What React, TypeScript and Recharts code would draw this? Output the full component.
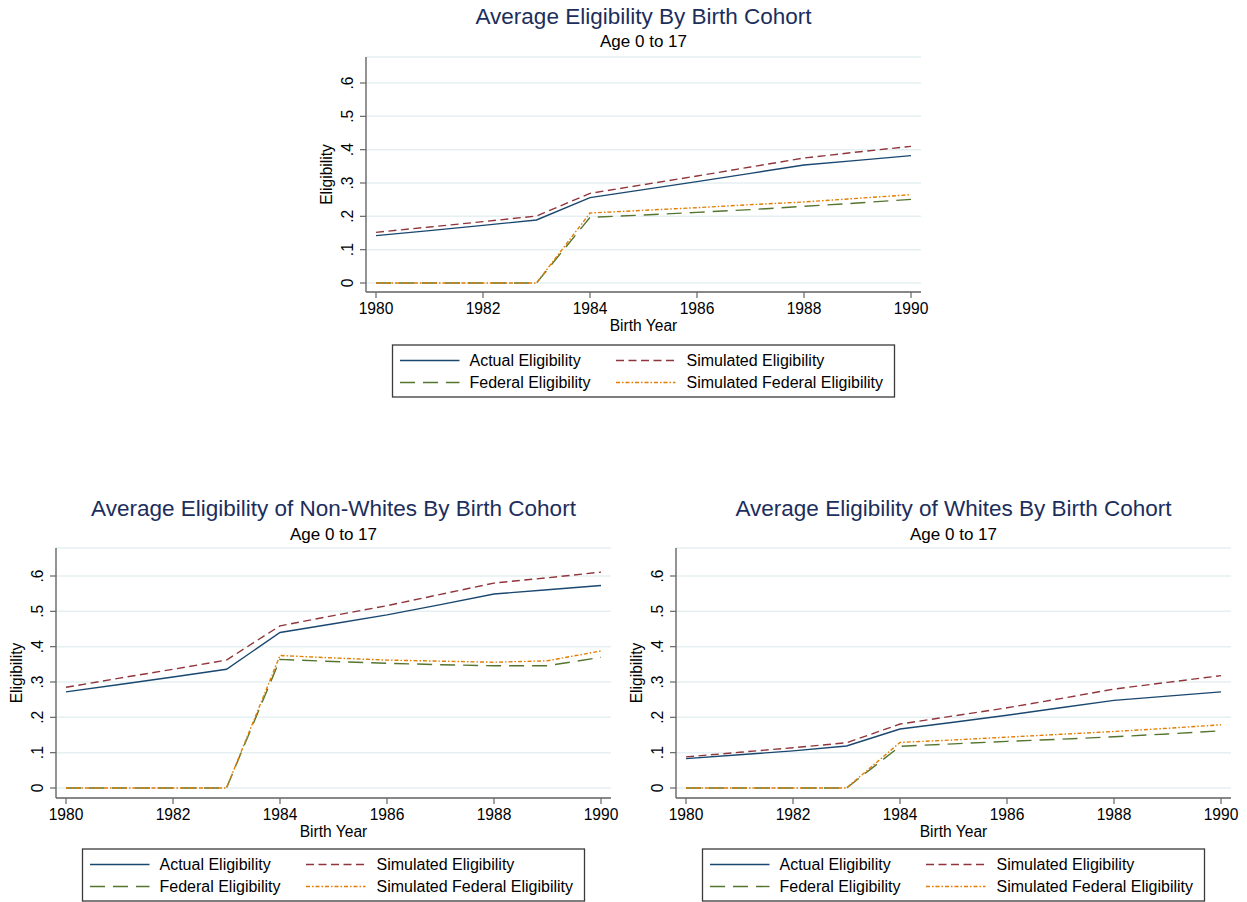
import React from "react";
import { LineChart, Line, XAxis, YAxis, CartesianGrid } from "recharts";

// ---------- Data ----------
const years = [1980, 1981, 1982, 1983, 1984, 1985, 1986, 1987, 1988, 1989, 1990];
const xTicks = [1980, 1982, 1984, 1986, 1988, 1990];
const yTicks = [0, 0.1, 0.2, 0.3, 0.4, 0.5, 0.6];

const allActual = [0.142, 0.157, 0.173, 0.189, 0.256, 0.28, 0.304, 0.329, 0.354, 0.368, 0.382];
const allSimulated = [0.152, 0.168, 0.184, 0.201, 0.269, 0.295, 0.321, 0.348, 0.375, 0.393, 0.41];
const allFederal = [0, 0, 0, 0, 0.197, 0.204, 0.212, 0.22, 0.23, 0.24, 0.251];
const allSimFederal = [0, 0, 0, 0, 0.21, 0.218, 0.226, 0.235, 0.243, 0.254, 0.265];

const nwActual = [0.272, 0.293, 0.314, 0.336, 0.44, 0.465, 0.49, 0.519, 0.549, 0.561, 0.573];
const nwSimulated = [0.285, 0.311, 0.336, 0.362, 0.459, 0.488, 0.516, 0.548, 0.58, 0.595, 0.611];
const nwFederal = [0, 0, 0, 0, 0.364, 0.358, 0.353, 0.349, 0.346, 0.346, 0.37];
const nwSimFederal = [0, 0, 0, 0, 0.375, 0.368, 0.362, 0.359, 0.356, 0.36, 0.388];

const wActual = [0.083, 0.094, 0.105, 0.119, 0.167, 0.186, 0.206, 0.227, 0.248, 0.26, 0.272];
const wSimulated = [0.088, 0.101, 0.114, 0.128, 0.181, 0.204, 0.227, 0.253, 0.28, 0.299, 0.318];
const wFederal = [0, 0, 0, 0, 0.118, 0.125, 0.132, 0.138, 0.145, 0.153, 0.162];
const wSimFederal = [0, 0, 0, 0, 0.129, 0.136, 0.144, 0.152, 0.16, 0.169, 0.179];

const seriesLabels = ["Actual Eligibility", "Simulated Eligibility", "Federal Eligibility", "Simulated Federal Eligibility"];
const titles = [
  "Average Eligibility By Birth Cohort",
  "Average Eligibility of Non-Whites By Birth Cohort",
  "Average Eligibility of Whites By Birth Cohort",
];
const subtitle = "Age 0 to 17";
const xTitle = "Birth Year";
const yTitle = "Eligibility";

// ---------- Styles ----------
const FONT = "'Liberation Sans', Arial, Helvetica, sans-serif";
const TITLE_COLOR = "#1c2e5c";
const AXIS_COLOR = "#666666";
const GRID_COLOR = "#e6eff1";
const SERIES = [
  { key: "actual", color: "#1a476f", dash: undefined as string | undefined },
  { key: "simulated", color: "#90353b", dash: "8 4.5" },
  { key: "federal", color: "#55752f", dash: "15 8" },
  { key: "simFederal", color: "#e37e00", dash: "4 2 1.5 2" },
];

function buildData(a: number[], s: number[], f: number[], sf: number[]) {
  return years.map((yr, i) => ({ year: yr, actual: a[i], simulated: s[i], federal: f[i], simFederal: sf[i] }));
}

const panels = [
  { title: titles[0], data: buildData(allActual, allSimulated, allFederal, allSimFederal), axisX: 366, top: 57, plotH: 235, titleY: 23.5, subY: 47, legendTop: 345 },
  { title: titles[1], data: buildData(nwActual, nwSimulated, nwFederal, nwSimFederal), axisX: 56, top: 548, plotH: 250, titleY: 516, subY: 540, legendTop: 849 },
  { title: titles[2], data: buildData(wActual, wSimulated, wFederal, wSimFederal), axisX: 676, top: 548, plotH: 250, titleY: 516, subY: 540, legendTop: 849 },
];

const PLOT_W = 555;
const Y_AXIS_W = 50;
const X_AXIS_H = 40;
const M_TOP = 5;
const M_RIGHT = 15;
const LEGEND_W = 502;
const LEGEND_H = 52;

const fmtY = (v: number) => (v === 0 ? "0" : "." + Math.round(v * 10));

function YTick(props: any) {
  const { x, y, payload } = props;
  return (
    <text transform={`translate(${x - 7.3},${y}) rotate(-90)`} textAnchor="middle" fontSize={15.6} fontFamily={FONT} fill="#000">
      {fmtY(payload.value)}
    </text>
  );
}

function XTick(props: any) {
  const { x, y, payload } = props;
  return (
    <text x={x} y={y + 15.5} textAnchor="middle" fontSize={15.6} fontFamily={FONT} fill="#000">
      {payload.value}
    </text>
  );
}

function Panel({ p }: { p: (typeof panels)[number] }) {
  const padYears = 10 / 53.5;
  const yMin = -(p.plotH - (p.plotH === 235 ? 226 : 240)) / (p.plotH === 235 ? 333.3 : 353.3);
  const yMax = 0.6 + (p.plotH === 235 ? 26 / 333.3 : 28 / 353.3);
  return (
    <div style={{ position: "absolute", left: p.axisX - Y_AXIS_W, top: p.top - M_TOP }}>
      <LineChart
        width={Y_AXIS_W + PLOT_W + M_RIGHT}
        height={M_TOP + p.plotH + X_AXIS_H}
        data={p.data}
        margin={{ top: M_TOP, right: M_RIGHT, left: 0, bottom: 0 }}
      >
        <CartesianGrid horizontal={true} vertical={false} stroke={GRID_COLOR} strokeWidth={1.5} />
        <XAxis
          dataKey="year"
          type="number"
          domain={[1980 - padYears, 1990 + padYears]}
          ticks={xTicks}
          allowDataOverflow
          height={X_AXIS_H}
          tickSize={6}
          tickMargin={0}
          tick={<XTick />}
          stroke={AXIS_COLOR}
          strokeWidth={1.4}
          tickLine={{ stroke: AXIS_COLOR, strokeWidth: 1.2 }}
        />
        <YAxis
          type="number"
          domain={[yMin, yMax]}
          ticks={yTicks}
          allowDataOverflow
          width={Y_AXIS_W}
          tickSize={6}
          tickMargin={0}
          tick={<YTick />}
          stroke={AXIS_COLOR}
          strokeWidth={1.4}
          tickLine={{ stroke: AXIS_COLOR, strokeWidth: 1.2 }}
        />
        {SERIES.map((s) => (
          <Line
            key={s.key}
            type="linear"
            dataKey={s.key}
            stroke={s.color}
            strokeWidth={1.4}
            strokeDasharray={s.dash}
            dot={false}
            activeDot={false}
            isAnimationActive={false}
          />
        ))}
      </LineChart>
    </div>
  );
}

function Legend({ cx, top }: { cx: number; top: number }) {
  const left = cx - LEGEND_W / 2;
  const rows = [top + 15.5, top + 37.5];
  const cols = [{ l1: left + 7.5, l2: left + 67, t: left + 77 }, { l1: left + 223.5, l2: left + 283, t: left + 294 }];
  const order = [
    { s: 0, r: 0, c: 0 },
    { s: 1, r: 0, c: 1 },
    { s: 2, r: 1, c: 0 },
    { s: 3, r: 1, c: 1 },
  ];
  return (
    <g>
      <rect x={left} y={top} width={LEGEND_W} height={LEGEND_H} fill="#fff" stroke="#3a3a3a" strokeWidth={1.3} />
      {order.map((o) => (
        <g key={o.s}>
          <line x1={cols[o.c].l1} x2={cols[o.c].l2} y1={rows[o.r]} y2={rows[o.r]} stroke={SERIES[o.s].color} strokeWidth={1.4} strokeDasharray={SERIES[o.s].dash} />
          <text x={cols[o.c].t} y={rows[o.r] + 5.6} fontSize={16} fontFamily={FONT} fill="#000">
            {seriesLabels[o.s]}
          </text>
        </g>
      ))}
    </g>
  );
}

export default function App() {
  return (
    <div style={{ position: "absolute", left: 0, top: 0, width: 1247, height: 902, background: "#fff", overflow: "hidden" }}>
      <svg width={1247} height={902} style={{ position: "absolute", left: 0, top: 0 }}>
        {panels.map((p, i) => {
          const cx = p.axisX + PLOT_W / 2;
          const axisY = p.top + p.plotH;
          const cy = p.top + p.plotH / 2;
          return (
            <g key={i}>
              <text x={cx} y={p.titleY} textAnchor="middle" fontSize={22.5} fontFamily={FONT} fill={TITLE_COLOR}>
                {p.title}
              </text>
              <text x={cx} y={p.subY} textAnchor="middle" fontSize={17} fontFamily={FONT} fill="#000">
                {subtitle}
              </text>
              <text x={cx} y={axisY + 38.5} textAnchor="middle" fontSize={15.6} fontFamily={FONT} fill="#000">
                {xTitle}
              </text>
              <text transform={`translate(${p.axisX - 34},${cy}) rotate(-90)`} textAnchor="middle" fontSize={15.6} fontFamily={FONT} fill="#000">
                {yTitle}
              </text>
              <Legend cx={cx} top={p.legendTop} />
            </g>
          );
        })}
      </svg>
      {panels.map((p, i) => (
        <Panel key={i} p={p} />
      ))}
    </div>
  );
}
